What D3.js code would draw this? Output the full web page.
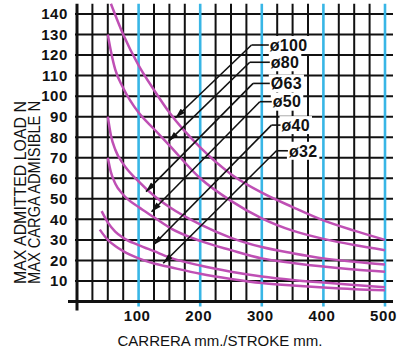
<!DOCTYPE html>
<html>
<head>
<meta charset="utf-8">
<script src="https://cdn.jsdelivr.net/npm/d3@7"></script>
<style>
    body { margin: 0; background: #fff; }
    svg { display: block; }
</style>
</head>
<body>
<div id="chart"></div>
<script>

// load curves (stroke mm -> max load N)
var strokeD100 = [55, 75, 100, 125, 150, 200, 250, 300, 350, 400, 450, 500];
var loadD100 = [145, 130, 115, 103, 92, 75, 62, 53, 46, 39.5, 34.5, 30];

var strokeD80 = [50, 55, 62, 75, 100, 125, 150, 200, 250, 300, 350, 400, 450, 500];
var loadD80 = [130, 122, 113, 104, 92, 84, 76, 60, 49, 40.5, 34.5, 30.5, 27.5, 25];

var strokeD63 = [50, 55, 62, 75, 100, 125, 150, 200, 250, 300, 350, 400, 450, 500];
var loadD63 = [90, 81, 74, 67, 58.5, 51.5, 46, 37.5, 31, 26.5, 23.5, 21, 19.3, 18];

var strokeD50 = [50, 55, 62, 75, 100, 125, 150, 200, 250, 300, 350, 400, 450, 500];
var loadD50 = [70, 63, 57.5, 52, 46, 41, 36, 29.5, 25, 21, 18.8, 17, 15.6, 14.5];

var strokeD40 = [40, 50, 62, 75, 100, 125, 150, 200, 250, 300, 350, 400, 450, 500];
var loadD40 = [44, 38.5, 34, 31, 27.5, 24.5, 21.5, 17.5, 14.5, 12.2, 10.5, 9.2, 8, 7];

var strokeD32 = [37, 50, 62, 75, 100, 125, 150, 200, 250, 300, 350, 400, 450, 500];
var loadD32 = [35, 30, 27, 24.5, 21, 18.5, 16.8, 13.5, 11, 9, 7.8, 6.8, 6, 5.5];

// labels and their leader lines (stroke, load)
var labels = ['\u00f8100', '\u00f880', '\u00d863', '\u00f850', '\u00f840', '\u00f832'];
var labelStroke = [313, 314.6, 314.6, 317.8, 332, 344];
var elbowStroke = [283.3, 280.5, 285.9, 296.7, 315.7, 323.8];
var elbowLoad = [124.9, 116.5, 106.2, 97.3, 85.9, 73.4];
var tipStroke = [160, 149, 112, 121, 124, 140];
var tipLoad = [89.5, 78.1, 53.5, 43.7, 27.5, 18.6];

var xTicks = [100, 200, 300, 400, 500];
var yTicks = [10, 20, 30, 40, 50, 60, 70, 80, 90, 100, 110, 120, 130, 140];

var series = [
    {stroke: strokeD100, load: loadD100},
    {stroke: strokeD80, load: loadD80},
    {stroke: strokeD63, load: loadD63},
    {stroke: strokeD50, load: loadD50},
    {stroke: strokeD40, load: loadD40},
    {stroke: strokeD32, load: loadD32}
];

var width = 398, height = 353;
var magenta = '#bf4fb4', blue = '#38b6e6';
var font = '"Liberation Sans", Arial, sans-serif';

var svg = d3.select('#chart').append('svg')
    .attr('width', width)
    .attr('height', height);

svg.append('rect').attr('width', width).attr('height', height).attr('fill', '#fff');

var x = d3.scaleLinear().domain([0, 500]).range([77, 385]);
var y = d3.scaleLinear().domain([0, 140]).range([301.5, 14]);

/////// GRID
var grid = svg.append('g').attr('class', 'grid');

grid.selectAll('.hline')
    .data(d3.range(10, 150, 10))
    .enter().append('line')
    .attr('x1', x(0) - 2).attr('x2', x(513))
    .attr('y1', d => y(d)).attr('y2', d => y(d))
    .attr('stroke', '#111').attr('stroke-width', 2);

var vlines = d3.range(25, 525, 25);
grid.selectAll('.vline')
    .data(vlines.filter(d => d % 100 !== 0))
    .enter().append('line')
    .attr('x1', d => x(d)).attr('x2', d => x(d))
    .attr('y1', y(145)).attr('y2', y(0))
    .attr('stroke', '#111').attr('stroke-width', 2);

grid.selectAll('.bline')
    .data(vlines.filter(d => d % 100 === 0))
    .enter().append('line')
    .attr('x1', d => x(d)).attr('x2', d => x(d))
    .attr('y1', y(145)).attr('y2', y(0) + 5)
    .attr('stroke', blue).attr('stroke-width', 2.6);
//// END OF GRID

// axes
svg.append('line')
    .attr('x1', x(0)).attr('x2', x(0))
    .attr('y1', y(145)).attr('y2', y(0) + 9)
    .attr('stroke', '#111').attr('stroke-width', 3);
svg.append('line')
    .attr('x1', x(0) - 9).attr('x2', x(513))
    .attr('y1', y(0)).attr('y2', y(0))
    .attr('stroke', '#111').attr('stroke-width', 3);

var yAxis = d3.axisLeft(y).tickValues(yTicks).tickSize(0).tickPadding(9);
var gY = svg.append('g').attr('transform', 'translate(' + x(0) + ',0)').call(yAxis);

var xAxis = d3.axisBottom(x).tickValues(xTicks).tickSize(0).tickPadding(9);
var gX = svg.append('g').attr('transform', 'translate(0,' + y(0) + ')').call(xAxis);

[gX, gY].forEach(function (g) {
    g.select('.domain').remove();
    g.selectAll('text')
        .attr('fill', '#111')
        .style('font-family', font)
        .style('font-weight', 'bold')
        .style('font-size', '15px')
        .style('letter-spacing', '0.6px');
});
gX.selectAll('text').attr('dx', -2);

// curves
var line = d3.line()
    .x(d => x(d[0]))
    .y(d => y(d[1]))
    .curve(d3.curveMonotoneX);

svg.append('g').selectAll('path')
    .data(series)
    .enter().append('path')
    .attr('d', s => line(s.stroke.map((v, i) => [v, s.load[i]])))
    .attr('fill', 'none')
    .attr('stroke', magenta)
    .attr('stroke-width', 2.5);

// labels with white boxes
var labelG = svg.append('g');
labels.forEach(function (t, i) {
    var txt = labelG.append('text')
        .attr('x', x(labelStroke[i]))
        .attr('y', y(elbowLoad[i]))
        .attr('dy', '0.36em')
        .style('font-family', font)
        .style('font-weight', 'bold')
        .style('font-size', '16px')
        .style('letter-spacing', '0.3px')
        .attr('fill', '#111')
        .text(t);
    var bb = txt.node().getBBox();
    labelG.insert('rect', 'text')
        .attr('x', bb.x - 2).attr('y', y(elbowLoad[i]) - 9)
        .attr('width', bb.width + 4).attr('height', 18)
        .attr('fill', '#fff');
});

// leader lines
svg.append('defs').append('marker')
    .attr('id', 'arrow')
    .attr('viewBox', '0 -3 10 6')
    .attr('refX', 10).attr('refY', 0)
    .attr('markerUnits', 'userSpaceOnUse')
    .attr('markerWidth', 11).attr('markerHeight', 6)
    .attr('orient', 'auto')
    .append('path')
    .attr('d', 'M0,-3L10,0L0,3Z')
    .attr('fill', '#111');

var leaders = svg.append('g');
labels.forEach(function (t, i) {
    leaders.append('line')
        .attr('x1', x(elbowStroke[i])).attr('y1', y(elbowLoad[i]))
        .attr('x2', x(labelStroke[i]) - 1).attr('y2', y(elbowLoad[i]))
        .attr('stroke', '#111').attr('stroke-width', 1.6);
    leaders.append('line')
        .attr('x1', x(elbowStroke[i])).attr('y1', y(elbowLoad[i]))
        .attr('x2', x(tipStroke[i])).attr('y2', y(tipLoad[i]))
        .attr('stroke', '#111').attr('stroke-width', 1.6)
        .attr('marker-end', 'url(#arrow)');
});

// titles
svg.append('text')
    .attr('x', 220).attr('y', 346)
    .attr('text-anchor', 'middle')
    .style('font-family', font)
    .style('font-size', '15px')
    .attr('fill', '#111')
    .text('CARRERA mm./STROKE mm.');

var yTitle = ['MAX ADMITTED LOAD N', 'MAX CARGA ADMISIBLE N'];
svg.selectAll('.ytitle')
    .data(yTitle)
    .enter().append('text')
    .attr('transform', (d, i) => 'translate(' + (20 + i * 14) + ',284) rotate(-90)')
    .attr('dy', '0.36em')
    .attr('textLength', 183)
    .attr('lengthAdjust', 'spacingAndGlyphs')
    .style('font-family', font)
    .style('font-size', '16px')
    .attr('fill', '#111')
    .text(d => d);

</script>
</body>
</html>
